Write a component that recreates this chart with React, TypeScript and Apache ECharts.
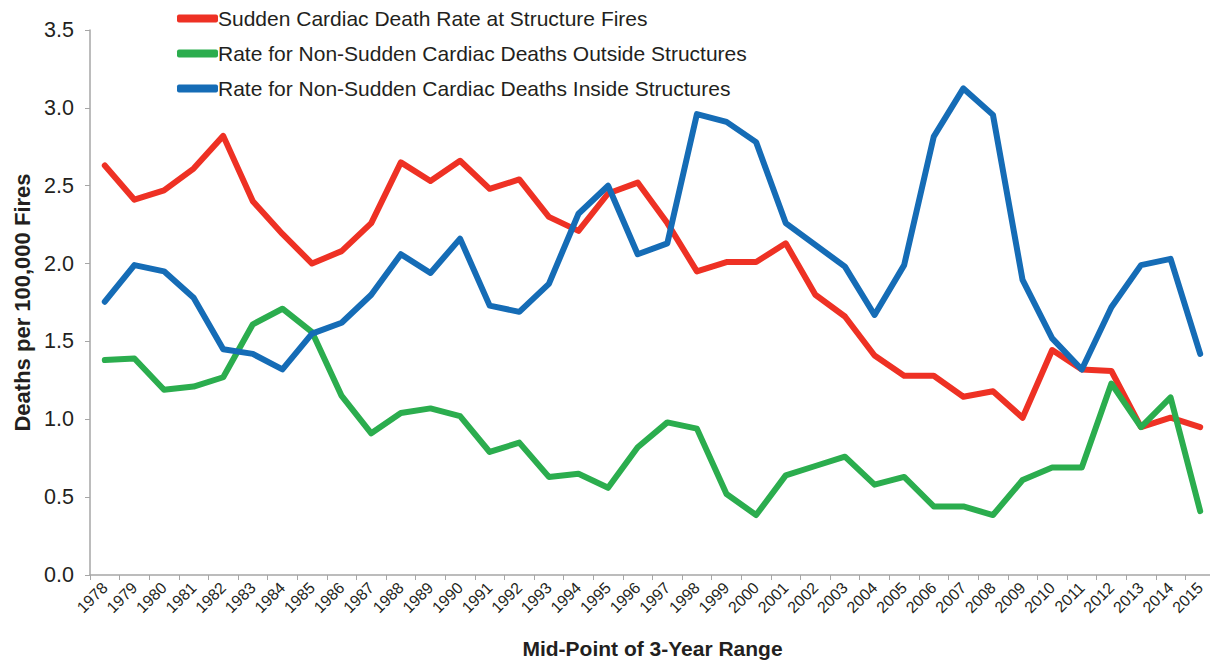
import React, { useEffect, useRef } from "react";
import * as echarts from "echarts";

const years = [
  "1978","1979","1980","1981","1982","1983","1984","1985","1986","1987",
  "1988","1989","1990","1991","1992","1993","1994","1995","1996","1997",
  "1998","1999","2000","2001","2002","2003","2004","2005","2006","2007",
  "2008","2009","2010","2011","2012","2013","2014","2015",
];

const suddenCardiac = [
  2.63, 2.41, 2.47, 2.61, 2.82, 2.40, 2.19, 2.00, 2.08, 2.26,
  2.65, 2.53, 2.66, 2.48, 2.54, 2.30, 2.21, 2.45, 2.52, 2.26,
  1.95, 2.01, 2.01, 2.13, 1.80, 1.66, 1.41, 1.28, 1.28, 1.145,
  1.18, 1.01, 1.445, 1.32, 1.31, 0.95, 1.01, 0.95,
];

const nonSuddenOutside = [
  1.38, 1.39, 1.19, 1.21, 1.27, 1.61, 1.71, 1.56, 1.15, 0.91,
  1.04, 1.07, 1.02, 0.79, 0.85, 0.63, 0.65, 0.56, 0.82, 0.98,
  0.94, 0.52, 0.385, 0.64, 0.70, 0.76, 0.58, 0.63, 0.44, 0.44,
  0.385, 0.61, 0.69, 0.69, 1.23, 0.95, 1.14, 0.41,
];

const nonSuddenInside = [
  1.755, 1.99, 1.95, 1.78, 1.45, 1.42, 1.32, 1.55, 1.62, 1.80,
  2.06, 1.94, 2.16, 1.73, 1.69, 1.87, 2.32, 2.50, 2.06, 2.13,
  2.96, 2.91, 2.78, 2.26, 2.12, 1.98, 1.67, 1.99, 2.815, 3.125,
  2.955, 1.895, 1.52, 1.32, 1.72, 1.99, 2.03, 1.42,
];

const seriesNames = [
  "Sudden Cardiac Death Rate at Structure Fires",
  "Rate for Non-Sudden Cardiac Deaths Outside Structures",
  "Rate for Non-Sudden Cardiac Deaths Inside Structures",
];
const colors = ["#EE3124", "#2BAD4E", "#156CB6"];

export default function App() {
  const ref = useRef<HTMLDivElement>(null);
  useEffect(() => {
    document.body.style.margin = "0";
    if (!ref.current) return;
    const chart = echarts.init(ref.current, null, { renderer: "svg" });
    const font = "'Liberation Sans', Arial, sans-serif";
    const mk = (name: string, data: number[], color: string) => ({
      name,
      type: "line",
      data,
      symbol: "none",
      lineStyle: { width: 6, color, cap: "round", join: "round" },
      itemStyle: { color },
    });
    chart.setOption({
      animation: false,
      backgroundColor: "#ffffff",
      textStyle: { fontFamily: font },
      legend: {
        orient: "vertical",
        left: 172,
        top: 3,
        itemGap: 14,
        itemWidth: 41,
        itemHeight: 8,
        icon: "roundRect",
        textStyle: { fontSize: 21, color: "#231f20", fontFamily: font, padding: [0, 0, 0, -5] },
        data: seriesNames,
      },
      grid: {
        left: 90,
        right: -5,
        top: 30,
        bottom: 87,
        containLabel: false,
        outerBoundsMode: "none",
      },
      xAxis: {
        type: "category",
        data: years,
        boundaryGap: true,
        name: "Mid-Point of 3-Year Range",
        nameLocation: "middle",
        nameGap: 63,
        nameTextStyle: { fontSize: 21, fontWeight: "bold", color: "#231f20", fontFamily: font },
        axisLine: { lineStyle: { color: "#a6a6a6", width: 1.5 } },
        axisTick: { show: true, length: 5, lineStyle: { color: "#a6a6a6" } },
        axisLabel: { rotate: 45, fontSize: 16, color: "#231f20", interval: 0, margin: 10, fontFamily: font },
      },
      yAxis: {
        type: "value",
        min: 0,
        max: 3.5,
        interval: 0.5,
        name: "Deaths per 100,000 Fires",
        nameLocation: "middle",
        nameGap: 57,
        nameTextStyle: { fontSize: 22, fontWeight: "bold", color: "#231f20", fontFamily: font },
        axisLine: { show: true, lineStyle: { color: "#a6a6a6", width: 1.5 } },
        axisTick: { show: true, length: 5, lineStyle: { color: "#a6a6a6" } },
        splitLine: { show: false },
        axisLabel: {
          fontSize: 21.5,
          color: "#231f20",
          margin: 16,
          fontFamily: font,
          formatter: (v: number) => v.toFixed(1),
        },
      },
      series: [
        mk(seriesNames[0], suddenCardiac, colors[0]),
        mk(seriesNames[1], nonSuddenOutside, colors[1]),
        mk(seriesNames[2], nonSuddenInside, colors[2]),
      ],
    });
    return () => chart.dispose();
  }, []);
  return <div ref={ref} style={{ width: 1210, height: 662 }} />;
}
